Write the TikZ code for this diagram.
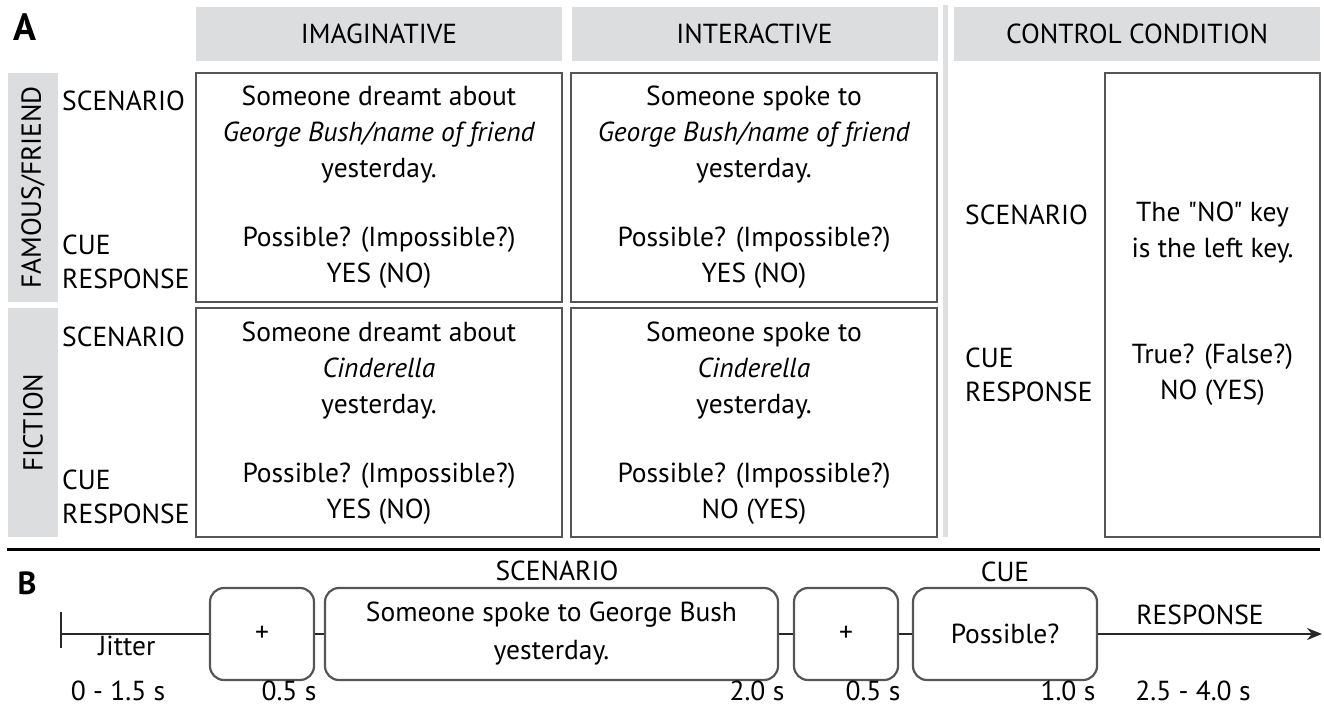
\documentclass[tikz,border=0pt]{standalone}
\usepackage{fontspec}
\setmainfont{PT Sans}[Ligatures=TeXOff]
\definecolor{headgray}{RGB}{220,221,223}
\definecolor{sepgray}{RGB}{222,223,224}
\definecolor{boxline}{RGB}{85,85,85}
\definecolor{axisline}{RGB}{40,40,40}
\usetikzlibrary{arrows.meta,positioning}

\begin{document}
\begin{tikzpicture}[x=1pt, y=-1pt,
    every node/.style={font=\fontsize{27.5}{36}\selectfont, inner sep=0pt},
    headbox/.style={rectangle, fill=headgray, minimum width=366, minimum height=54},
    sidebox/.style={rectangle, fill=headgray, minimum width=50, minimum height=229},
    cellbox/.style={rectangle, draw=boxline, line width=2.2pt, minimum width=366, minimum height=229},
    celltext/.style={align=center},
    rowlabel/.style={align=left, anchor=west, font=\fontsize{27.5}{34}\selectfont},
    trialbox/.style={rectangle, rounded corners=14pt, draw=boxline, line width=2.2pt, minimum height=92,
      align=center, font=\fontsize{27.5}{38}\selectfont},
    axis/.style={draw=axisline, line width=2.4pt},
    timelabel/.style={anchor=base},
    panel/.style={font=\fontsize{38}{38}\selectfont\bfseries}
  ]
    \useasboundingbox (0,0) rectangle (1324,708);

    % panel A
    \node[panel] (pa) at (25,27) {A};
    \node[headbox] (himag) at (379,34)    {IMAGINATIVE};
    \node[headbox] (hinter) at (754.5,34) {INTERACTIVE};
    \node[headbox] (hctrl) at (1137,34)   {CONTROL CONDITION};
    \draw[sepgray, line width=5pt] (945,5) -- (945,537);

    \node[sidebox] (sfam) at (33,187.5) {};
    \node[sidebox] (sfic) at (33,422.5) {};
    \node[rotate=90] (lfam) at (sfam) {FAMOUS/FRIEND};
    \node[rotate=90] (lfic) at (sfic) {FICTION};

    \node[rowlabel] (famscen) at (62,101)   {SCENARIO};
    \node[rowlabel] (famcue) at (62,261.5)  {CUE\\RESPONSE};
    \node[rowlabel] (ficscen) at (62,337)   {SCENARIO};
    \node[rowlabel] (ficcue) at (62,497)    {CUE\\RESPONSE};
    \node[rowlabel] (ctrlscen) at (965,215) {SCENARIO};
    \node[rowlabel] (ctrlcue) at (965,375)  {CUE\\RESPONSE};

    \node[cellbox] (imfam) at (379,187.5)    {};
    \node[cellbox] (infam) at (754,187.5)    {};
    \node[cellbox] (imfic) at (379,422.5)    {};
    \node[cellbox] (infic) at (754,422.5)    {};
    \node[cellbox, minimum width=215, minimum height=464] (ctrl) at (1212.5,305) {};

    \node[celltext] (imfam-s) at (379,135) {Someone dreamt about\\\textit{George Bush/name of friend}\\yesterday.};
    \node[celltext] (imfam-c) at (379,258) {Possible? (Impossible?)\\YES (NO)};
    \node[celltext] (infam-s) at (754,135) {Someone spoke to\\\textit{George Bush/name of friend}\\yesterday.};
    \node[celltext] (infam-c) at (754,258) {Possible? (Impossible?)\\YES (NO)};
    \node[celltext] (imfic-s) at (379,371) {Someone dreamt about\\\textit{Cinderella}\\yesterday.};
    \node[celltext] (imfic-c) at (379,494) {Possible? (Impossible?)\\YES (NO)};
    \node[celltext] (infic-s) at (754,371) {Someone spoke to\\\textit{Cinderella}\\yesterday.};
    \node[celltext] (infic-c) at (754,494) {Possible? (Impossible?)\\NO (YES)};
    \node[celltext] (ctrl-s) at (1212.5,233) {The "NO" key\\is the left key.};
    \node[celltext] (ctrl-c) at (1212.5,375) {True? (False?)\\NO (YES)};

    \draw[line width=3pt] (7,549) -- (1320,549);

    % panel B
    \node[panel, font=\fontsize{32}{32}\selectfont\bfseries] (pb) at (27,583) {B};
    \coordinate (t0) at (61,634);
    \coordinate (tend) at (1322,634);
    \node[trialbox, minimum width=104] (fix1) at (262,634)   {+};
    \node[trialbox, minimum width=453] (scen) at (551.5,634) {Someone spoke to George Bush\\yesterday.};
    \node[trialbox, minimum width=104] (fix2) at (846,634)   {+};
    \node[trialbox, minimum width=184] (cue) at (1005,634)   {Possible?};

    \draw[axis] (t0) ++(0,-22) -- ++(0,36);
    \draw[axis] (t0) -- (fix1);
    \draw[axis] (fix1) -- (scen);
    \draw[axis] (scen) -- (fix2);
    \draw[axis] (fix2) -- (cue);
    \draw[axis, -{Stealth[length=15pt, width=12pt]}] (cue) -- (tend);

    \node (lscen) at (557,571)  {SCENARIO};
    \node (lcue) at (1005,572)  {CUE};
    \node (lresp) at (1200,615) {RESPONSE};
    \node (ljit) at (127,646)   {Jitter};
    \node[timelabel] (d0) at (118,700)  {0 - 1.5 s};
    \node[timelabel] (d1) at (289,700)  {0.5 s};
    \node[timelabel] (d2) at (757,700)  {2.0 s};
    \node[timelabel] (d3) at (873,700)  {0.5 s};
    \node[timelabel] (d4) at (1068,700) {1.0 s};
    \node[timelabel] (d5) at (1193,700) {2.5 - 4.0 s};
  \end{tikzpicture}
\end{document}
